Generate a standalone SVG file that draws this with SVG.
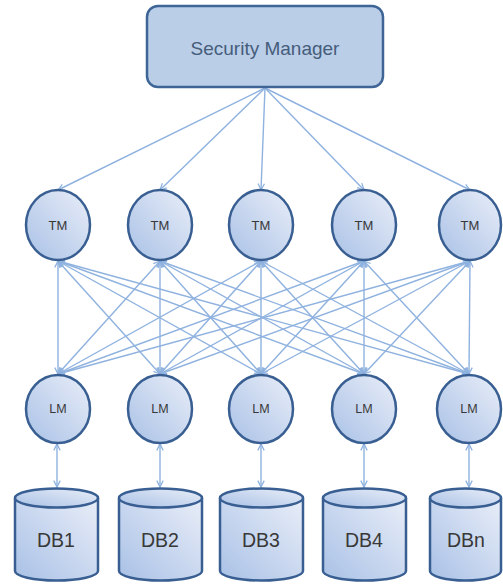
<svg xmlns="http://www.w3.org/2000/svg" width="503" height="586" viewBox="0 0 503 586">
  <style>
    .node { stroke: #395f92; stroke-width: 2.5; fill: url(#nodeFill); }
    .box { stroke: #3e6596; stroke-width: 2.5; fill: #bacee8; }
    .link { stroke: #8fb2df; stroke-width: 1.4; fill: none; }
    .one { marker-end: url(#arrow); }
    .two { marker-start: url(#arrow); marker-end: url(#arrow); }
    .lbl { font-family: "Liberation Sans", Arial, sans-serif; fill: #383838; text-anchor: middle; }
    .title { font-family: "Liberation Sans", Arial, sans-serif; fill: #465d7b; font-size: 19px; text-anchor: middle; }
  </style>
  <defs>
    <linearGradient id="nodeFill" x1="0" y1="1" x2="1" y2="0">
      <stop offset="0" stop-color="#a9c1e6"/>
      <stop offset="1" stop-color="#e9eef8"/>
    </linearGradient>
    <marker id="arrow" viewBox="0 0 10 10" refX="9" refY="5" markerWidth="8" markerHeight="8" markerUnits="userSpaceOnUse" orient="auto-start-reverse">
      <path d="M1,1 L9,5 L1,9" fill="none" stroke="#8fb2df" stroke-width="1.6"/>
    </marker>
  </defs>

  <rect width="503" height="586" fill="#ffffff"/>

  <!-- connectors -->
  <g id="connectors">
    <!-- Security Manager to transaction managers -->
    <line class="link one" x1="265" y1="88" x2="58" y2="190"/>
    <line class="link one" x1="265" y1="88" x2="160" y2="190"/>
    <line class="link one" x1="265" y1="88" x2="261" y2="190"/>
    <line class="link one" x1="265" y1="88" x2="364" y2="190"/>
    <line class="link one" x1="265" y1="88" x2="470" y2="190"/>

    <!-- every TM linked to every LM -->
    <line class="link two" x1="58" y1="261" x2="58" y2="374"/>
    <line class="link two" x1="58" y1="261" x2="160" y2="374"/>
    <line class="link two" x1="58" y1="261" x2="261" y2="374"/>
    <line class="link two" x1="58" y1="261" x2="364" y2="374"/>
    <line class="link two" x1="58" y1="261" x2="469" y2="374"/>

    <line class="link two" x1="160" y1="261" x2="58" y2="374"/>
    <line class="link two" x1="160" y1="261" x2="160" y2="374"/>
    <line class="link two" x1="160" y1="261" x2="261" y2="374"/>
    <line class="link two" x1="160" y1="261" x2="364" y2="374"/>
    <line class="link two" x1="160" y1="261" x2="469" y2="374"/>

    <line class="link two" x1="261" y1="261" x2="58" y2="374"/>
    <line class="link two" x1="261" y1="261" x2="160" y2="374"/>
    <line class="link two" x1="261" y1="261" x2="261" y2="374"/>
    <line class="link two" x1="261" y1="261" x2="364" y2="374"/>
    <line class="link two" x1="261" y1="261" x2="469" y2="374"/>

    <line class="link two" x1="364" y1="261" x2="58" y2="374"/>
    <line class="link two" x1="364" y1="261" x2="160" y2="374"/>
    <line class="link two" x1="364" y1="261" x2="261" y2="374"/>
    <line class="link two" x1="364" y1="261" x2="364" y2="374"/>
    <line class="link two" x1="364" y1="261" x2="469" y2="374"/>

    <line class="link two" x1="470" y1="261" x2="58" y2="374"/>
    <line class="link two" x1="470" y1="261" x2="160" y2="374"/>
    <line class="link two" x1="470" y1="261" x2="261" y2="374"/>
    <line class="link two" x1="470" y1="261" x2="364" y2="374"/>
    <line class="link two" x1="470" y1="261" x2="469" y2="374"/>

    <!-- LM to database -->
    <line class="link two" x1="57" y1="444" x2="57" y2="487"/>
    <line class="link two" x1="160" y1="444" x2="160" y2="487"/>
    <line class="link two" x1="261" y1="444" x2="261" y2="487"/>
    <line class="link two" x1="364" y1="444" x2="364" y2="487"/>
    <line class="link two" x1="469" y1="444" x2="469" y2="487"/>
  </g>

  <!-- Security Manager -->
  <g id="security-manager">
    <rect class="box" x="147" y="6" width="236" height="81" rx="11"/>
    <text class="title" x="265" y="55">Security Manager</text>
  </g>

  <!-- transaction managers -->
  <g id="tm1"><ellipse class="node" cx="58" cy="225" rx="32" ry="35"/><text class="lbl" x="58" y="230" font-size="13">TM</text></g>
  <g id="tm2"><ellipse class="node" cx="160" cy="225" rx="32" ry="35"/><text class="lbl" x="160" y="230" font-size="13">TM</text></g>
  <g id="tm3"><ellipse class="node" cx="261" cy="225" rx="32" ry="35"/><text class="lbl" x="261" y="230" font-size="13">TM</text></g>
  <g id="tm4"><ellipse class="node" cx="364" cy="225" rx="32" ry="35"/><text class="lbl" x="364" y="230" font-size="13">TM</text></g>
  <g id="tm5"><ellipse class="node" cx="470" cy="225" rx="31" ry="35"/><text class="lbl" x="470" y="230" font-size="13">TM</text></g>

  <!-- lock managers -->
  <g id="lm1"><ellipse class="node" cx="58" cy="409" rx="32" ry="34"/><text class="lbl" x="58" y="413" font-size="12.5">LM</text></g>
  <g id="lm2"><ellipse class="node" cx="160" cy="409" rx="32" ry="34"/><text class="lbl" x="160" y="413" font-size="12.5">LM</text></g>
  <g id="lm3"><ellipse class="node" cx="261" cy="409" rx="32" ry="34"/><text class="lbl" x="261" y="413" font-size="12.5">LM</text></g>
  <g id="lm4"><ellipse class="node" cx="364" cy="409" rx="32" ry="34"/><text class="lbl" x="364" y="413" font-size="12.5">LM</text></g>
  <g id="lm5"><ellipse class="node" cx="469" cy="409" rx="32" ry="34"/><text class="lbl" x="469" y="413" font-size="12.5">LM</text></g>

  <!-- databases: cylinder body, then top rim -->
  <g id="db1">
    <path class="node" d="M15,498 L15,571 A41.5,9.5 0 0 0 98,571 L98,498"/>
    <ellipse class="node" cx="56.5" cy="498" rx="41.5" ry="9.5"/>
    <text class="lbl" x="56" y="547" font-size="19.5">DB1</text>
  </g>
  <g id="db2">
    <path class="node" d="M119,498 L119,571 A41.5,9.5 0 0 0 202,571 L202,498"/>
    <ellipse class="node" cx="160.5" cy="498" rx="41.5" ry="9.5"/>
    <text class="lbl" x="160" y="547" font-size="19.5">DB2</text>
  </g>
  <g id="db3">
    <path class="node" d="M220,498 L220,571 A41.5,9.5 0 0 0 303,571 L303,498"/>
    <ellipse class="node" cx="261.5" cy="498" rx="41.5" ry="9.5"/>
    <text class="lbl" x="261" y="547" font-size="19.5">DB3</text>
  </g>
  <g id="db4">
    <path class="node" d="M323,498 L323,571 A41.5,9.5 0 0 0 406,571 L406,498"/>
    <ellipse class="node" cx="364.5" cy="498" rx="41.5" ry="9.5"/>
    <text class="lbl" x="364" y="547" font-size="19.5">DB4</text>
  </g>
  <g id="dbn">
    <path class="node" d="M430,498 L430,571 A35.5,9.5 0 0 0 501,571 L501,498"/>
    <ellipse class="node" cx="465.5" cy="498" rx="35.5" ry="9.5"/>
    <text class="lbl" x="466" y="547" font-size="19.5">DBn</text>
  </g>
</svg>
